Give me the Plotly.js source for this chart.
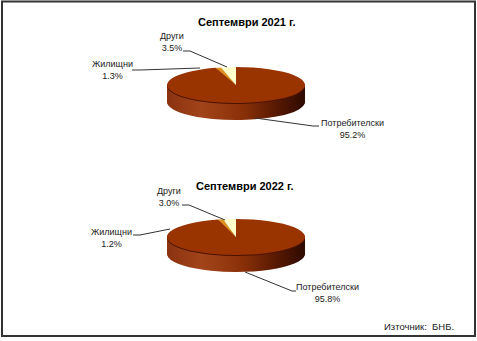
<!DOCTYPE html>
<html><head><meta charset="utf-8">
<script src="https://cdn.plot.ly/plotly-3.0.1.min.js"></script>
<style>
html,body{margin:0;padding:0;background:#fff;overflow:hidden;width:477px;height:341px;}
#pies{position:absolute;left:0;top:0;width:477px;transform-origin:0 0;}
#main{position:absolute;left:0;top:0;width:477px;height:341px;}
</style></head><body>
<div id="pies"></div><div id="main"></div>
<script>
// ---- data ----
const categories = ['Потребителски', 'Жилищни', 'Други'];
const values2021 = [95.2, 1.3, 3.5];
const values2022 = [95.8, 1.2, 3.0];
const titles = ['Септември 2021 г.', 'Септември 2022 г.'];
const sourceText = 'Източник:  БНБ.';

// ---- geometry / styles ----
const W = 477, H = 341;
const A = 69, B = 18, DEPTH = 17;
const S = B / A;
const HU = Math.ceil(H / S);
const faceColors = ['#993300', '#E0901E', '#FFFFCC'];
const sideColors = ['#7A2800', '#A0580E', '#C8C08A'];
const edgeColors = ['#4A1400', '#6A3000', '#8A8450'];
const pieCenters = [[236, 85], [236, 237]];
const FONT = 'Liberation Sans, Arial, sans-serif';

document.getElementById('pies').style.height = HU + 'px';
document.getElementById('pies').style.transform = 'scaleY(' + S + ')';

const pieTraces = [];
const sideTraceIdx = [];
[values2021, values2022].forEach((vals, i) => {
  const [cx, cy] = pieCenters[i];
  for (let d = DEPTH; d >= 0; d--) {
    const cyU = (cy + d) / S;
    const colors = d === 0 ? faceColors : (d === 1 ? edgeColors : sideColors);
    if (d >= 2) sideTraceIdx.push(pieTraces.length);
    pieTraces.push({
      type: 'pie', values: vals, labels: categories, sort: false,
      direction: 'clockwise', rotation: 0,
      textinfo: 'none', hoverinfo: 'skip', showlegend: false,
      marker: { colors: colors, line: { width: 0 } },
      domain: { x: [(cx - A) / W, (cx + A) / W], y: [1 - (cyU + A) / HU, 1 - (cyU - A) / HU] }
    });
  }
});
Plotly.newPlot('pies', pieTraces, {
  width: W, height: HU, margin: { l: 0, r: 0, t: 0, b: 0 },
  paper_bgcolor: '#ffffff', showlegend: false
}, { staticPlot: true }).then(gd => {
  // shaded side of the 3D disc
  const ns = 'http://www.w3.org/2000/svg';
  const svg = gd.querySelector('svg.main-svg');
  let defs = svg.querySelector('defs');
  if (!defs) { defs = document.createElementNS(ns, 'defs'); svg.insertBefore(defs, svg.firstChild); }
  const lg = document.createElementNS(ns, 'linearGradient');
  lg.setAttribute('id', 'sideGrad');
  lg.setAttribute('x1', '0'); lg.setAttribute('y1', '0');
  lg.setAttribute('x2', '1'); lg.setAttribute('y2', '0');
  [[0, '#8A3210'], [0.25, '#A2441A'], [0.55, '#8A3008'], [0.8, '#561802'], [1, '#2E0A00']].forEach(([o, c]) => {
    const st = document.createElementNS(ns, 'stop');
    st.setAttribute('offset', o); st.setAttribute('stop-color', c);
    lg.appendChild(st);
  });
  defs.appendChild(lg);
  const traces = gd.querySelectorAll('.pielayer .trace');
  sideTraceIdx.forEach(k => {
    const t = traces[k];
    if (!t) return;
    const p = t.querySelectorAll('.slice path.surface')[0];
    if (p) p.style.setProperty('fill', 'url(#sideGrad)');
  });
});

// ---- labels & leader lines (order follows categories) ----
const labelPos = [
  [[352, 129], [112, 70], [172, 42]],
  [[327, 293], [111, 238], [169, 197]]
];
const leaders = [
  ['M255,118 L313,126 L319,126', 'M132,70 L140,70 L200,68', 'M183,51 L190,51 L227,67'],
  ['M245,272 L292,291 L296,291', 'M133,235 L140,235 L170,229', 'M182,205 L189,205 L225,220']
];
const titlePos = [[247, 22], [245, 186]];

const annotations = [];
const shapes = [{
  type: 'rect', xref: 'x', yref: 'y', x0: 2, x1: 475, y0: 1.5, y1: 336,
  line: { color: '#333333', width: 2 }, fillcolor: 'rgba(0,0,0,0)'
}];
[values2021, values2022].forEach((vals, i) => {
  annotations.push({
    x: titlePos[i][0], y: titlePos[i][1], xref: 'x', yref: 'y', showarrow: false,
    text: '<b>' + titles[i] + '</b>', font: { family: FONT, size: 11, color: '#000' }
  });
  categories.forEach((c, j) => {
    annotations.push({
      x: labelPos[i][j][0], y: labelPos[i][j][1], xref: 'x', yref: 'y', showarrow: false,
      align: 'center', xanchor: 'center', yanchor: 'middle',
      text: c + '<br>' + vals[j].toFixed(1) + '%',
      font: { family: FONT, size: 9, color: '#1a1a1a' }
    });
    shapes.push({ type: 'path', xref: 'x', yref: 'y', path: leaders[i][j], line: { color: '#333333', width: 1 } });
  });
});
annotations.push({
  x: 456, y: 326, xref: 'x', yref: 'y', xanchor: 'right', showarrow: false,
  text: sourceText, font: { family: FONT, size: 9.5, color: '#1a1a1a' }
});

Plotly.newPlot('main', [{ type: 'scatter', x: [], y: [], hoverinfo: 'skip', showlegend: false }], {
  width: W, height: H, margin: { l: 0, r: 0, t: 0, b: 0 },
  paper_bgcolor: 'rgba(0,0,0,0)', plot_bgcolor: 'rgba(0,0,0,0)',
  xaxis: { range: [0, W], visible: false, fixedrange: true },
  yaxis: { range: [H, 0], visible: false, fixedrange: true },
  annotations: annotations, shapes: shapes, showlegend: false
}, { staticPlot: true });
</script>
</body></html>
